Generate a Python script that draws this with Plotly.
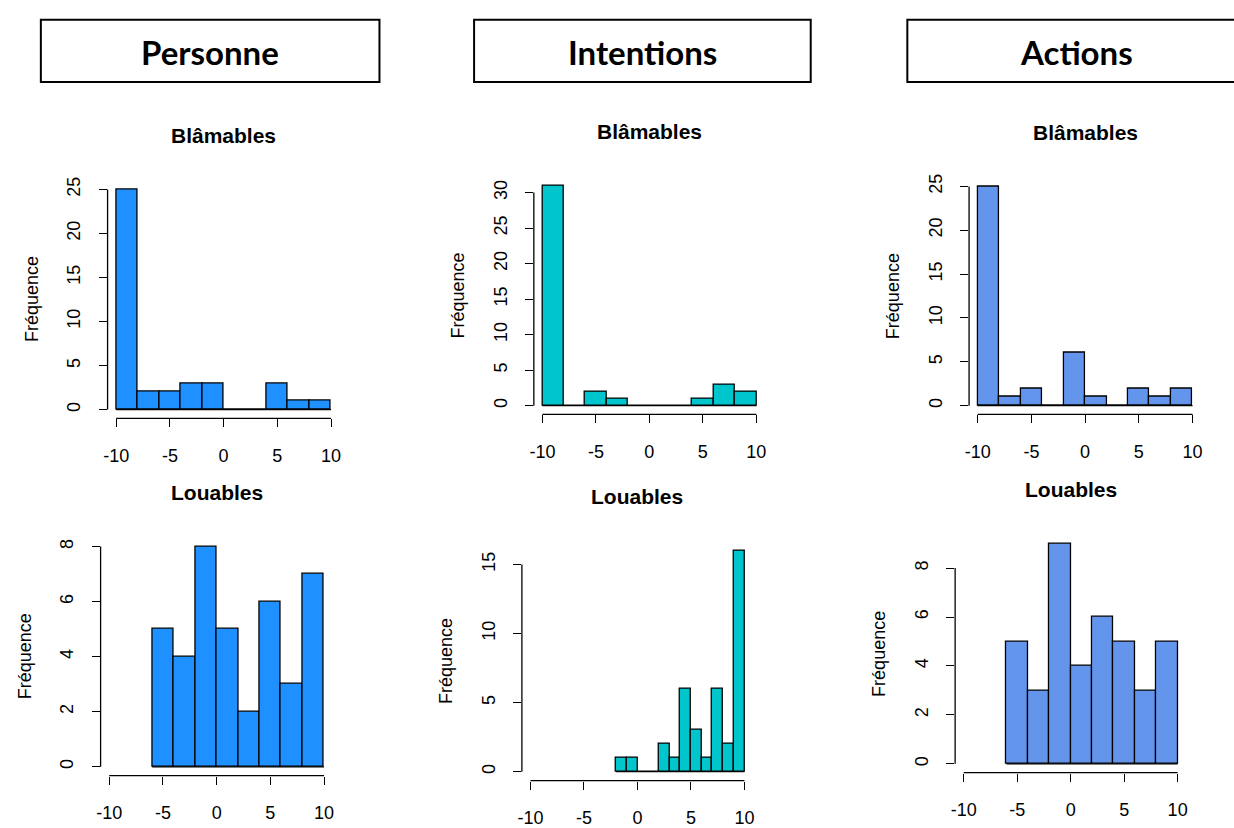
import plotly.graph_objects as go

# ---------------- data ----------------
groups = ["Personne", "Intentions", "Actions"]
row_titles = ["Blâmables", "Louables"]
y_label = "Fréquence"
x_ticks = [-10, -5, 0, 5, 10]

blamables_breaks = [-10, -8, -6, -4, -2, 0, 2, 4, 6, 8, 10]
personne_blamables_counts = [25, 2, 2, 3, 3, 0, 0, 3, 1, 1]
intentions_blamables_counts = [31, 0, 2, 1, 0, 0, 0, 1, 3, 2]
actions_blamables_counts = [25, 1, 2, 0, 6, 1, 0, 2, 1, 2]

louables_breaks = [-6, -4, -2, 0, 2, 4, 6, 8, 10]
personne_louables_counts = [5, 4, 8, 5, 2, 6, 3, 7]
actions_louables_counts = [5, 3, 9, 4, 6, 5, 3, 5]

intentions_louables_breaks = [-2, -1, 0, 1, 2, 3, 4, 5, 6, 7, 8, 9, 10]
intentions_louables_counts = [1, 1, 0, 0, 2, 1, 6, 3, 1, 6, 2, 16]

personne_blamables_yticks = [0, 5, 10, 15, 20, 25]
intentions_blamables_yticks = [0, 5, 10, 15, 20, 25, 30]
actions_blamables_yticks = [0, 5, 10, 15, 20, 25]
personne_louables_yticks = [0, 2, 4, 6, 8]
intentions_louables_yticks = [0, 5, 10, 15]
actions_louables_yticks = [0, 2, 4, 6, 8]

# ---------------- styling / layout ----------------
W, H = 1234, 828
colors = {"Personne": "#1E90FF", "Intentions": "#00C5CD", "Actions": "#6495ED"}
FONT = "Liberation Sans, Arial, sans-serif"

# plot regions in pixels: (left, right, top, bottom)
regions = [
    (104, 337, 179, 420), (532, 764, 175, 416), (969, 1202, 176, 416),
    (97, 330, 541, 782), (520, 752, 545, 787), (955, 1187, 538, 779),
]
header_boxes = [(37, 377), (472, 810), (907, 1245)]
header_text_x = [207, 641, 1077]
header_top, header_bottom, header_text_y = 16, 79, 49

panels = [
    ("Personne", 0, blamables_breaks, personne_blamables_counts, personne_blamables_yticks),
    ("Intentions", 0, blamables_breaks, intentions_blamables_counts, intentions_blamables_yticks),
    ("Actions", 0, blamables_breaks, actions_blamables_counts, actions_blamables_yticks),
    ("Personne", 1, louables_breaks, personne_louables_counts, personne_louables_yticks),
    ("Intentions", 1, intentions_louables_breaks, intentions_louables_counts, intentions_louables_yticks),
    ("Actions", 1, louables_breaks, actions_louables_counts, actions_louables_yticks),
]

fig = go.Figure()
shapes = []
annotations = []
LW = 1.3
tickfont = dict(family=FONT, size=18, color="black")

for i, (grp, row, breaks, counts, yticks) in enumerate(panels):
    n = i + 1
    xs = "" if n == 1 else str(n)
    xname, yname = "x" + xs, "y" + xs
    l, r, t, b = regions[i]
    lefts = breaks[:-1]
    widths = [breaks[k + 1] - breaks[k] for k in range(len(lefts))]
    fig.add_trace(go.Bar(
        x=lefts, y=counts, width=widths, offset=0,
        marker=dict(color=colors[grp], line=dict(color="black", width=LW)),
        xaxis=xname, yaxis=yname, showlegend=False, hoverinfo="skip",
    ))
    ymax = max(counts)
    xr = x_ticks[-1] - x_ticks[0]
    fig.layout["xaxis" + xs] = dict(
        domain=[l / W, r / W], range=[x_ticks[0] - 0.04 * xr, x_ticks[-1] + 0.04 * xr],
        anchor=yname, tickvals=x_ticks, ticktext=[str(v) for v in x_ticks],
        ticks="outside", ticklen=8, tickwidth=LW, tickcolor="black",
        showline=False, showgrid=False, zeroline=False, tickfont=tickfont,
        ticklabelstandoff=13, fixedrange=True,
    )
    fig.layout["yaxis" + xs] = dict(
        domain=[1 - b / H, 1 - t / H], range=[-0.04 * ymax, 1.04 * ymax],
        anchor=xname, tickvals=yticks, ticktext=[str(v) for v in yticks],
        tickangle=-90, ticks="outside", ticklen=8, tickwidth=LW, tickcolor="black",
        showline=False, showgrid=False, zeroline=False, tickfont=tickfont,
        ticklabelstandoff=11, fixedrange=True,
    )
    # R-style axis lines spanning first to last tick
    shapes.append(dict(type="line", xref=xname + " domain", yref=yname,
                       x0=0, x1=0, y0=yticks[0], y1=yticks[-1],
                       line=dict(color="black", width=LW)))
    shapes.append(dict(type="line", xref=xname, yref=yname + " domain",
                       x0=x_ticks[0], x1=x_ticks[-1], y0=0, y1=0,
                       line=dict(color="black", width=LW)))
    # histogram base line (zero-count bins)
    shapes.append(dict(type="line", xref=xname, yref=yname,
                       x0=breaks[0], x1=breaks[-1], y0=0, y1=0,
                       line=dict(color="black", width=LW)))
    annotations.append(dict(text="<b>" + row_titles[row] + "</b>", xref=xname + " domain",
                            yref=yname + " domain", x=0.5, y=1, yshift=45,
                            xanchor="center", yanchor="middle", showarrow=False,
                            font=dict(family=FONT, size=21, color="black")))
    annotations.append(dict(text=y_label, xref=xname + " domain", yref=yname + " domain",
                            x=0, y=0.5, xshift=-76, textangle=-90,
                            xanchor="center", yanchor="middle", showarrow=False,
                            font=dict(family=FONT, size=18, color="black")))

for k, g in enumerate(groups):
    x0, x1 = header_boxes[k]
    shapes.append(dict(type="rect", xref="paper", yref="paper",
                       x0=x0 / W, x1=x1 / W, y0=1 - header_bottom / H, y1=1 - header_top / H,
                       line=dict(color="black", width=2), fillcolor="rgba(0,0,0,0)"))
    annotations.append(dict(text="<b>" + g + "</b>", xref="paper", yref="paper",
                            x=header_text_x[k] / W, y=1 - header_text_y / H,
                            xanchor="center", yanchor="middle", showarrow=False,
                            font=dict(family="Lato, Open Sans, sans-serif", size=33, color="black")))

fig.update_layout(
    width=W, height=H, margin=dict(l=0, r=0, t=0, b=0),
    paper_bgcolor="white", plot_bgcolor="white",
    shapes=shapes, annotations=annotations, showlegend=False,
    hovermode=False, bargap=0,
)
fig.write_html(
    "out.html", config={"displayModeBar": False},
    post_script="document.body.style.margin='0';document.body.style.overflow='hidden';",
)
